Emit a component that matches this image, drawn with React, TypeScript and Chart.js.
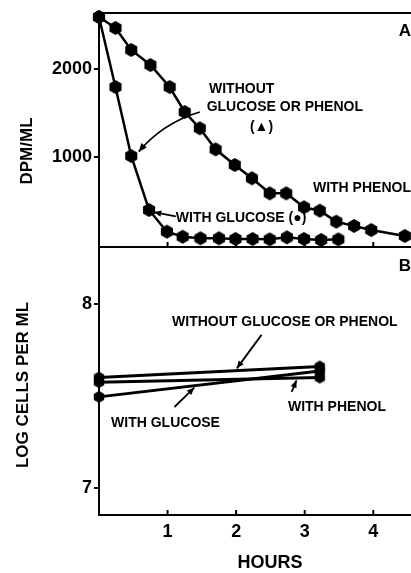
import React, { useEffect, useRef } from "react";
import { Chart, registerables } from "chart.js";
Chart.register(...registerables);

// ---- Panel A data (DPM/ML vs hours) ----
const hoursPhenol = [0, 0.24, 0.47, 0.75, 1.03, 1.25, 1.47, 1.7, 1.98, 2.23, 2.49, 2.73, 2.99, 3.22, 3.46, 3.72, 3.97, 4.46];
const dpmPhenol = [2590, 2466, 2216, 2045, 1795, 1511, 1326, 1087, 909, 758, 587, 587, 428, 390, 265, 216, 170, 102];
const hoursGlucose = [0, 0.24, 0.47, 0.73, 0.99, 1.22, 1.48, 1.75, 1.99, 2.24, 2.49, 2.74, 2.99, 3.24, 3.49];
const dpmGlucose = [2590, 1795, 1011, 398, 151, 94, 76, 76, 68, 68, 64, 87, 68, 57, 64];

// ---- Panel B data (log cells per ml) ----
const hoursB = [0, 3.22];
const logWithout = [7.6, 7.66];
const logPhenol = [7.575, 7.6];
const logGlucose = [7.495, 7.635];

// ---- tick labels ----
const hourTicks = [1, 2, 3, 4];
const dpmTicks = [1000, 2000];
const logTicks = [7, 8];

const FONT = '"Liberation Sans", Arial, Helvetica, sans-serif';

function makeHex(r: number): HTMLCanvasElement {
  const c = document.createElement("canvas");
  const s = Math.ceil(r * 2 + 2);
  c.width = s;
  c.height = s;
  const ctx = c.getContext("2d")!;
  ctx.fillStyle = "#000";
  ctx.beginPath();
  for (let i = 0; i < 6; i++) {
    const a = (Math.PI / 3) * i + Math.PI / 6;
    const px = s / 2 + r * Math.cos(a);
    const py = s / 2 + r * Math.sin(a);
    if (i === 0) ctx.moveTo(px, py);
    else ctx.lineTo(px, py);
  }
  ctx.closePath();
  ctx.fill();
  return c;
}

function arrowHead(ctx: CanvasRenderingContext2D, fx: number, fy: number, tx: number, ty: number, size = 8) {
  const ang = Math.atan2(ty - fy, tx - fx);
  ctx.beginPath();
  ctx.moveTo(tx, ty);
  ctx.lineTo(tx - size * Math.cos(ang - 0.4), ty - size * Math.sin(ang - 0.4));
  ctx.lineTo(tx - size * Math.cos(ang + 0.4), ty - size * Math.sin(ang + 0.4));
  ctx.closePath();
  ctx.fill();
}

function boldText(ctx: CanvasRenderingContext2D, text: string, x: number, y: number, size: number, align: CanvasTextAlign = "center", rot = 0) {
  ctx.save();
  ctx.translate(x, y);
  if (rot) ctx.rotate(rot);
  ctx.font = `bold ${size}px ${FONT}`;
  ctx.fillStyle = "#000";
  ctx.textAlign = align;
  ctx.textBaseline = "middle";
  ctx.fillText(text, 0, 0);
  ctx.restore();
}

function inwardTicks(chart: any) {
  const { ctx, chartArea, scales } = chart;
  ctx.save();
  ctx.strokeStyle = "#000";
  ctx.lineWidth = 2;
  hourTicks.forEach((v) => {
    const px = scales.x.getPixelForValue(v);
    ctx.beginPath();
    ctx.moveTo(px, chartArea.bottom);
    ctx.lineTo(px, chartArea.bottom - 5);
    ctx.stroke();
  });
  ctx.restore();
}

const pluginA = {
  id: "annotA",
  afterDraw(chart: any) {
    const { ctx, chartArea, scales } = chart;
    const X = (v: number) => scales.x.getPixelForValue(v);
    const Y = (v: number) => scales.y.getPixelForValue(v);
    inwardTicks(chart);
    ctx.save();
    ctx.strokeStyle = "#000";
    ctx.fillStyle = "#000";
    ctx.lineWidth = 2;
    // top frame
    ctx.beginPath();
    ctx.moveTo(chartArea.left - 1, chartArea.top);
    ctx.lineTo(chart.width, chartArea.top);
    ctx.stroke();
    // curved arrow from label to glucose curve
    const sx = X(1.47), sy = Y(1511), cx = X(0.93), cy = Y(1386), ex = X(0.58), ey = Y(1060);
    ctx.lineWidth = 1.8;
    ctx.beginPath();
    ctx.moveTo(sx, sy);
    ctx.quadraticCurveTo(cx, cy, ex, ey);
    ctx.stroke();
    arrowHead(ctx, cx, cy, ex, ey, 9);
    // arrow for WITH GLUCOSE
    ctx.beginPath();
    ctx.moveTo(X(1.12), Y(325));
    ctx.lineTo(X(0.8), Y(372));
    ctx.stroke();
    arrowHead(ctx, X(1.12), Y(325), X(0.8), Y(372), 8);
    ctx.restore();

    boldText(ctx, "WITHOUT", X(2.08), Y(1773), 14);
    boldText(ctx, "GLUCOSE OR PHENOL", X(2.71), Y(1568), 14);
    boldText(ctx, "(▲)", X(2.37), Y(1341), 14);
    boldText(ctx, "WITH PHENOL", X(3.12), Y(648), 14, "left");
    boldText(ctx, "WITH GLUCOSE (●)", X(1.12), Y(307), 14, "left");

    boldText(ctx, "DPM/ML", 27, 151, 17, "center", -Math.PI / 2);
    boldText(ctx, "A", chart.width, 31, 17, "right");
  },
};

const pluginB = {
  id: "annotB",
  afterDraw(chart: any) {
    const { ctx, scales } = chart;
    const X = (v: number) => scales.x.getPixelForValue(v);
    const Y = (v: number) => scales.y.getPixelForValue(v);
    inwardTicks(chart);
    ctx.save();
    ctx.strokeStyle = "#000";
    ctx.fillStyle = "#000";
    ctx.lineWidth = 1.8;
    const arrows = [
      [2.37, 7.832, 2.01, 7.65],
      [1.1, 7.44, 1.39, 7.545],
      [2.81, 7.522, 2.88, 7.585],
    ];
    arrows.forEach(([a, b, c, d]) => {
      ctx.beginPath();
      ctx.moveTo(X(a), Y(b));
      ctx.lineTo(X(c), Y(d));
      ctx.stroke();
      arrowHead(ctx, X(a), Y(b), X(c), Y(d), 8);
    });
    ctx.restore();
    boldText(ctx, "WITHOUT GLUCOSE OR PHENOL", X(2.71), Y(7.902), 14);
    boldText(ctx, "WITH GLUCOSE", X(0.97), Y(7.353), 14);
    boldText(ctx, "WITH PHENOL", X(3.47), Y(7.44), 14);

    boldText(ctx, "LOG CELLS PER ML", 23, 137, 17, "center", -Math.PI / 2);
    boldText(ctx, "B", chart.width, 18, 17, "right");
    boldText(ctx, "HOURS", 270, 315, 18);
  },
};

const tickFont = { family: FONT, size: 18, weight: "bold" as const };

function yAxis(min: number, max: number, ticks: number[]) {
  return {
    type: "linear" as const,
    min,
    max,
    afterBuildTicks: (s: any) => {
      s.ticks = ticks.map((v) => ({ value: v }));
    },
    ticks: { color: "#000", font: tickFont, padding: 2, callback: (v: any) => String(v) },
    grid: { drawOnChartArea: false, drawTicks: true, tickLength: 5, tickColor: "#000", tickWidth: 2, color: "#000", lineWidth: 2 },
    border: { display: true, color: "#000", width: 2 },
    afterFit: (s: any) => {
      s.width = 99;
      s.paddingTop = 0;
      s.paddingBottom = 0;
    },
  };
}

export default function App() {
  const refA = useRef<HTMLCanvasElement>(null);
  const refB = useRef<HTMLCanvasElement>(null);

  useEffect(() => {
    const hex = makeHex(7);
    const hexS = makeHex(6);
    const curveDs = (label: string, xs: number[], ys: number[]) => ({
      label,
      data: xs.map((x, i) => ({ x, y: ys[i] })),
      showLine: true,
      borderColor: "#000",
      backgroundColor: "#000",
      borderWidth: 2.5,
      pointStyle: hex as any,
      pointRadius: 7,
      clip: false as any,
    });
    const chartA = new Chart(refA.current!, {
      type: "scatter",
      data: {
        datasets: [
          curveDs("With phenol", hoursPhenol, dpmPhenol),
          curveDs("With glucose", hoursGlucose, dpmGlucose),
        ],
      },
      options: {
        animation: false,
        responsive: false,
        events: [],
        plugins: { legend: { display: false }, tooltip: { enabled: false } },
        layout: { autoPadding: false, padding: { top: 13, left: 0, right: 0, bottom: 0 } },
        scales: {
          x: {
            type: "linear",
            min: 0,
            max: 4.55,
            ticks: { display: false },
            grid: { display: false },
            border: { display: true, color: "#000", width: 2 },
            afterFit: (s: any) => {
              s.height = 1;
              s.paddingLeft = 0;
              s.paddingRight = 0;
            },
          } as any,
          y: yAxis(-23, 2636, dpmTicks) as any,
        },
      },
      plugins: [pluginA],
    });

    const lineDs = (label: string, vals: number[]) => ({
      label,
      data: hoursB.map((x, i) => ({ x, y: vals[i] })),
      showLine: true,
      borderColor: "#000",
      backgroundColor: "#000",
      borderWidth: 3,
      pointStyle: hexS as any,
      pointRadius: 6,
      clip: false as any,
    });

    const chartB = new Chart(refB.current!, {
      type: "scatter",
      data: {
        datasets: [
          lineDs("Without glucose or phenol", logWithout),
          lineDs("With phenol", logPhenol),
          lineDs("With glucose", logGlucose),
        ],
      },
      options: {
        animation: false,
        responsive: false,
        events: [],
        plugins: { legend: { display: false }, tooltip: { enabled: false } },
        layout: { autoPadding: false, padding: 0 },
        scales: {
          x: {
            type: "linear",
            min: 0,
            max: 4.55,
            afterBuildTicks: (s: any) => {
              s.ticks = hourTicks.map((v) => ({ value: v }));
            },
            ticks: { color: "#000", font: tickFont, padding: 6, maxRotation: 0, callback: (v: any) => String(v) },
            grid: { display: true, drawOnChartArea: false, drawTicks: false },
            border: { display: true, color: "#000", width: 2 },
            afterFit: (s: any) => {
              s.height = 58;
              s.paddingLeft = 0;
              s.paddingRight = 0;
            },
          } as any,
          y: yAxis(6.853, 8.304, logTicks) as any,
        },
      },
      plugins: [pluginB],
    });

    return () => {
      chartA.destroy();
      chartB.destroy();
    };
  }, []);

  return (
    <div style={{ position: "fixed", left: 0, top: 0, width: 411, height: 573, background: "#fff", overflow: "hidden" }}>
      <canvas ref={refA} width={411} height={248} style={{ position: "absolute", left: 0, top: 0, width: 411, height: 248 }} />
      <canvas ref={refB} width={411} height={325} style={{ position: "absolute", left: 0, top: 248, width: 411, height: 325 }} />
    </div>
  );
}
